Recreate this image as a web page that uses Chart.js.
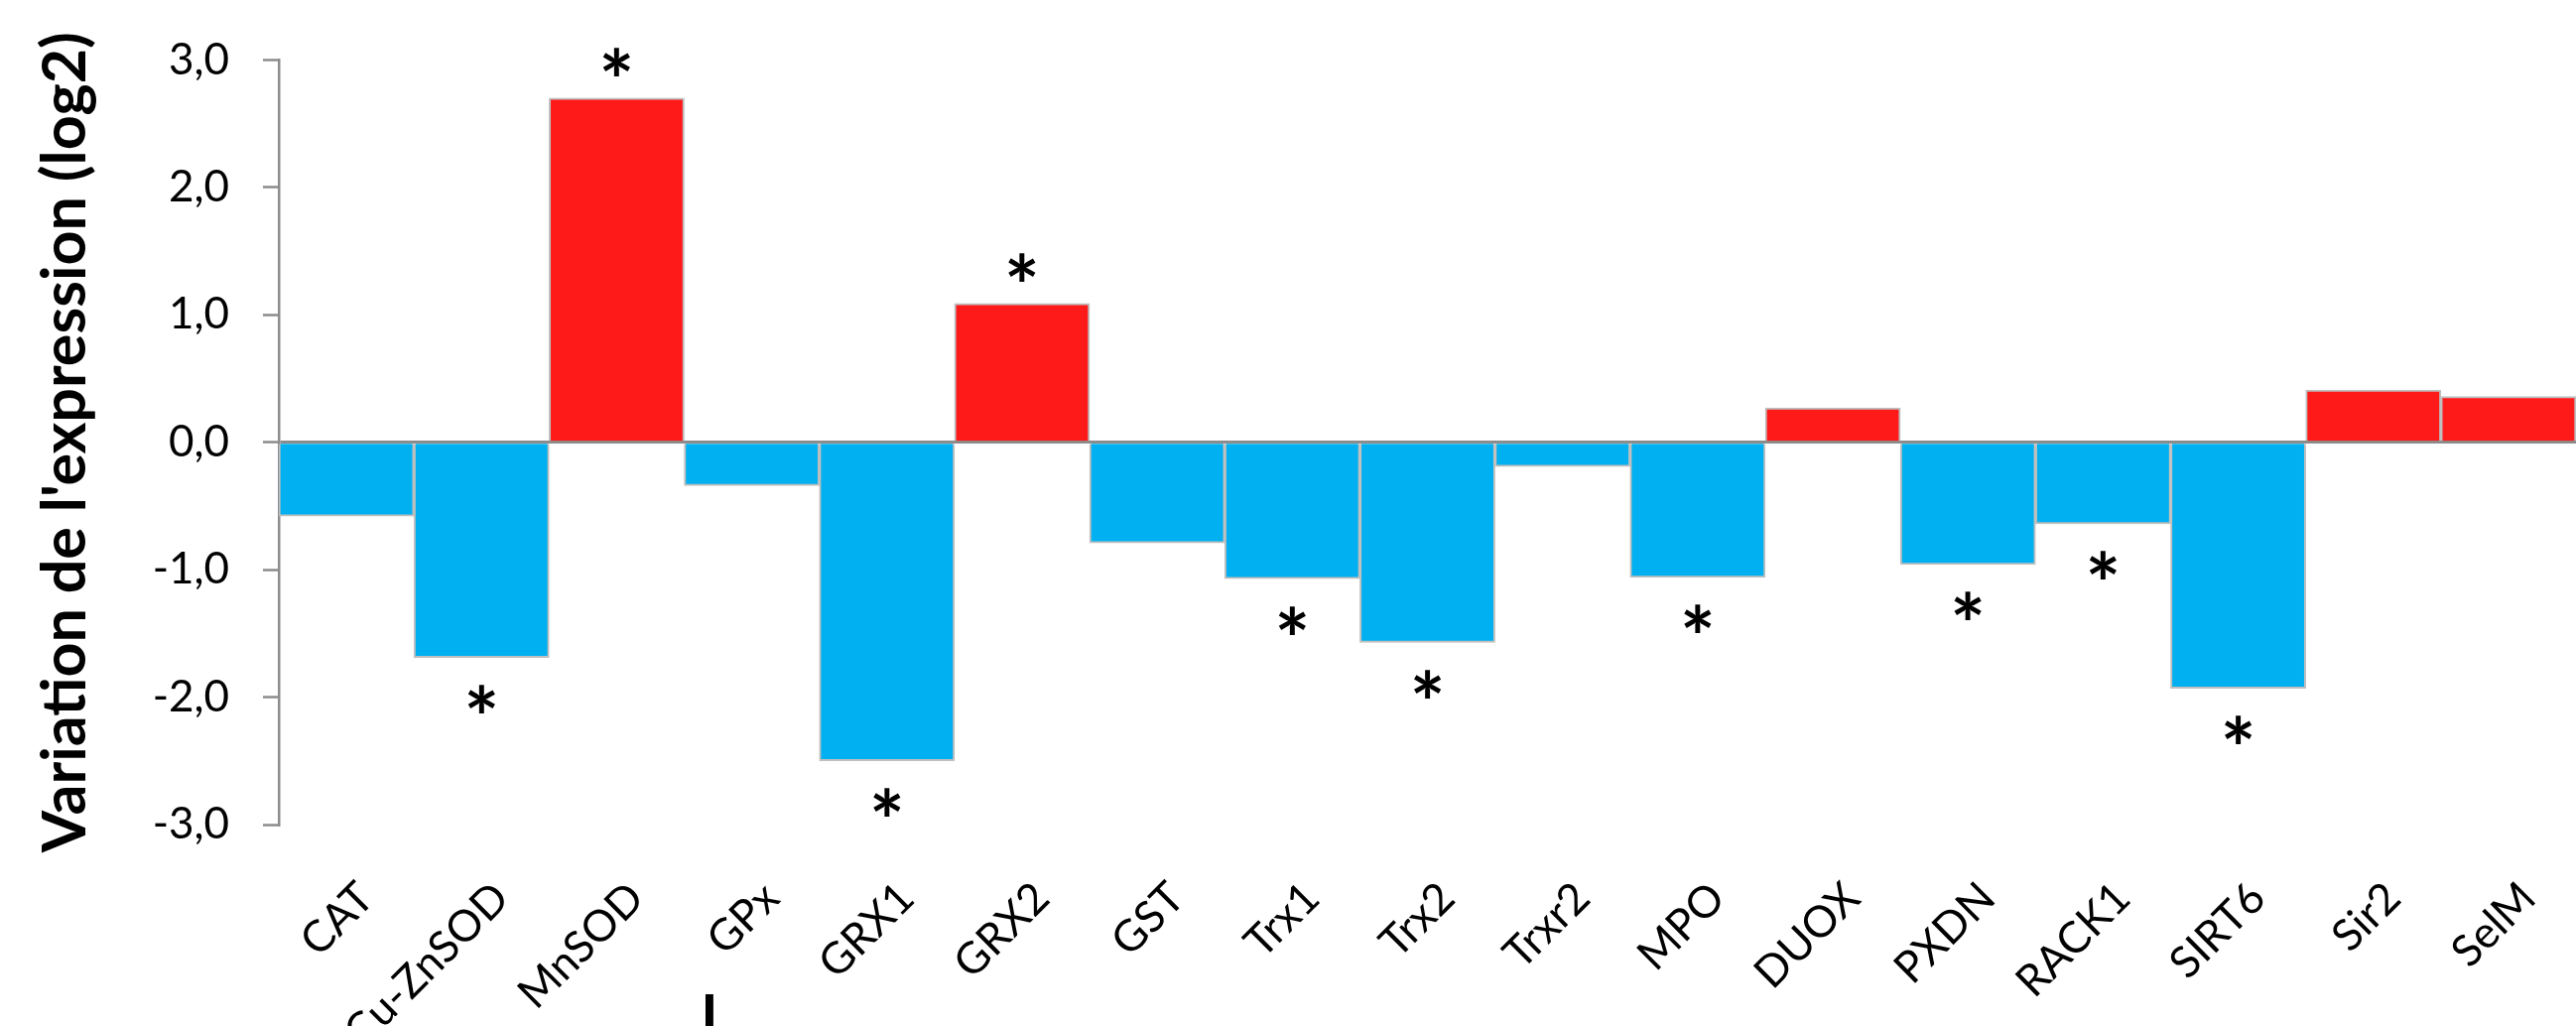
<!DOCTYPE html>
<html>
<head>
<meta charset="utf-8">
<script src="https://cdn.jsdelivr.net/npm/chart.js@4.4.1/dist/chart.umd.min.js"></script>
<style>
  html, body { margin: 0; padding: 0; background: #ffffff; }
  #wrap { width: 2596px; height: 1034px; position: relative; }
</style>
</head>
<body>
<div id="wrap"><canvas id="c" width="2596" height="1034"></canvas></div>
<script>
// ---- data ----
const categories = ['CAT', 'Cu-ZnSOD', 'MnSOD', 'GPx', 'GRX1', 'GRX2', 'GST', 'Trx1', 'Trx2', 'Trxr2', 'MPO', 'DUOX', 'PXDN', 'RACK1', 'SIRT6', 'Sir2', 'SelM'];
const expressionLog2 = [-0.58, -1.69, 2.70, -0.34, -2.50, 1.09, -0.79, -1.07, -1.57, -0.19, -1.06, 0.27, -0.96, -0.64, -1.93, 0.41, 0.36];
const significance = ['', '*', '*', '', '*', '*', '', '*', '*', '', '*', '', '*', '*', '*', '', ''];
const yTickValues = [-3, -2, -1, 0, 1, 2, 3];
const yAxisTitle = "Variation de l'expression (log2)";
const strayMark = 'l';

// ---- styles ----
const UP_COLOR = '#FF1A1A';
const DOWN_COLOR = '#00B0F0';
const AXIS_GREY = '#8C8C8C';
const FONT = 'Lato, "Open Sans", "Liberation Sans", sans-serif';

const asteriskPlugin = {
  id: 'asterisks',
  afterDatasetsDraw(chart) {
    const ctx = chart.ctx;
    const meta = chart.getDatasetMeta(0);
    ctx.save();
    ctx.fillStyle = '#000';
    ctx.font = 'bold 84px ' + FONT;
    ctx.textAlign = 'center';
    ctx.textBaseline = 'alphabetic';
    const m = ctx.measureText('*');
    const asc = m.actualBoundingBoxAscent, desc = m.actualBoundingBoxDescent;
    meta.data.forEach((bar, i) => {
      if (!significance[i]) return;
      const up = expressionLog2[i] >= 0;
      const cy = bar.y + (up ? -36 : 42);
      ctx.fillText(significance[i], bar.x, cy + (asc - desc) / 2);
    });
    ctx.restore();
  },
  afterDraw(chart) {
    const ctx = chart.ctx;
    ctx.save();
    ctx.fillStyle = '#000';
    ctx.font = 'bold 64px ' + FONT;
    ctx.textAlign = 'center';
    ctx.textBaseline = 'alphabetic';
    const m = ctx.measureText(strayMark);
    ctx.fillText(strayMark, 715, 1002 + m.actualBoundingBoxAscent);
    ctx.restore();
  }
};

new Chart(document.getElementById('c'), {
  type: 'bar',
  data: {
    labels: categories,
    datasets: [{
      data: expressionLog2,
      backgroundColor: expressionLog2.map(v => v >= 0 ? UP_COLOR : DOWN_COLOR),
      borderColor: '#BFBFBF',
      borderWidth: 2,
      borderSkipped: 'start',
      categoryPercentage: 1.0,
      barPercentage: 1.0
    }]
  },
  options: {
    responsive: false,
    devicePixelRatio: 1,
    animation: false,
    layout: { padding: { left: 0, right: 0, top: 60, bottom: 0 } },
    plugins: { legend: { display: false }, tooltip: { enabled: false } },
    scales: {
      x: {
        offset: true,
        border: { display: false },
        grid: { display: false, drawTicks: false },
        ticks: {
          color: '#000',
          font: { family: FONT, size: 44 },
          minRotation: 45,
          maxRotation: 45,
          padding: 48,
          labelOffset: 20,
          autoSkip: false
        },
        afterFit(scale) {
          scale.height = 203;
          scale.paddingLeft = 0;
          scale.paddingRight = 0;
        }
      },
      y: {
        min: -3,
        max: 3,
        afterBuildTicks(scale) { scale.ticks = yTickValues.map(v => ({ value: v })); },
        border: { display: true, color: AXIS_GREY, width: 2.5 },
        grid: {
          drawOnChartArea: true,
          drawTicks: true,
          tickLength: 16,
          tickColor: AXIS_GREY,
          tickWidth: 2.5,
          lineWidth: 3,
          color: ctx => (ctx.tick && ctx.tick.value === 0) ? AXIS_GREY : 'rgba(0,0,0,0)'
        },
        ticks: {
          color: '#000',
          font: { family: FONT, size: 44 },
          padding: 34,
          callback: v => Number(v).toFixed(1).replace('.', ',')
        },
        title: {
          display: true,
          text: yAxisTitle,
          color: '#000',
          font: { family: FONT, size: 61, weight: 'bold', lineHeight: 1.2 },
          padding: { top: 30, bottom: 0 }
        },
        afterFit(scale) { scale.width = 281; }
      }
    }
  },
  plugins: [asteriskPlugin]
});
</script>
</body>
</html>
